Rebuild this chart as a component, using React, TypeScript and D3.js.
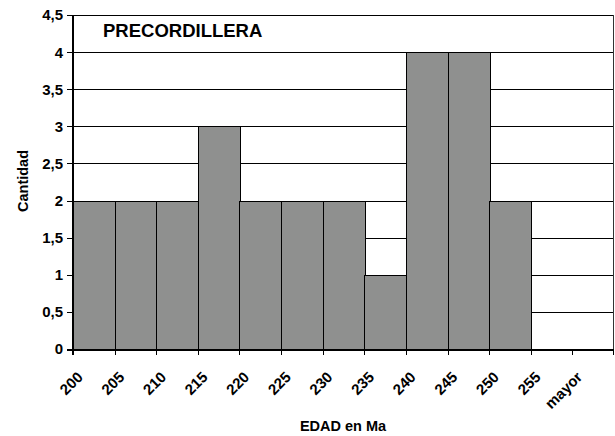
// @ts-nocheck
import * as d3 from "d3";
import React from "react";

const categories = ["200", "205", "210", "215", "220", "225", "230", "235", "240", "245", "250", "255", "mayor"];
const counts = [2, 2, 2, 3, 2, 2, 2, 1, 4, 4, 2, 0, 0];
const yTicks = [0, 0.5, 1, 1.5, 2, 2.5, 3, 3.5, 4, 4.5];
const yTickLabels = ["0", "0,5", "1", "1,5", "2", "2,5", "3", "3,5", "4", "4,5"];

const App = ({
  width = 615,
  height = 436,
  marginTop = 15,
  marginRight = 1,
  marginBottom = 87,
  marginLeft = 73,
}) => {
  const x = d3
    .scaleBand()
    .domain(categories)
    .range([marginLeft, width - marginRight])
    .padding(0);
  const y = d3.scaleLinear([0, 4.5], [height - marginBottom, marginTop]);
  const bw = x.bandwidth();
  const font = "Arial, 'Liberation Sans', sans-serif";
  const x0 = marginLeft;
  const x1 = width - marginRight;
  const yb = y(0);

  return (
    <svg
      width={width}
      height={height}
      style={{ position: "absolute", left: 0, top: 0, background: "#fff" }}
      fontFamily={font}
      fontWeight="bold"
    >
      {/* gridlines */}
      <g stroke="#000" strokeWidth="1" shapeRendering="crispEdges">
        {yTicks.slice(1).map((t) => (
          <line key={t} x1={x0} x2={x1} y1={Math.round(y(t)) + 0.5} y2={Math.round(y(t)) + 0.5} />
        ))}
      </g>
      <line x1={x1 - 0.5} x2={x1 - 0.5} y1={y(4.5)} y2={yb} stroke="#333" strokeWidth="1" />

      {/* bars */}
      <g fill="#8f908f" stroke="#000" strokeWidth="1" shapeRendering="crispEdges">
        {categories.map((c, i) =>
          counts[i] > 0 ? (
            <rect key={c} x={Math.round(x(c)) + 0.5} y={Math.round(y(counts[i])) + 0.5} width={Math.round(bw)} height={Math.round(yb) - Math.round(y(counts[i]))} />
          ) : null
        )}
      </g>

      {/* axes */}
      <g stroke="#000" shapeRendering="crispEdges">
        <line x1={x0} x2={x0} y1={y(4.5)} y2={yb + 6} strokeWidth="2" />
        <line x1={x0 - 6} x2={x1} y1={Math.round(yb) + 0.5} y2={Math.round(yb) + 0.5} strokeWidth="2" />
        {yTicks.map((t) => (
          <line key={t} x1={x0 - 6} x2={x0} y1={Math.round(y(t)) + 0.5} y2={Math.round(y(t)) + 0.5} strokeWidth="1" />
        ))}
        {categories.map((c) => (
          <line key={c} x1={Math.round(x(c)) + 0.5} x2={Math.round(x(c)) + 0.5} y1={yb} y2={yb + 6} strokeWidth="1" />
        ))}
        <line x1={x1 - 0.5} x2={x1 - 0.5} y1={yb} y2={yb + 6} strokeWidth="1" />
      </g>

      {/* y tick labels */}
      <g fontSize="15" textAnchor="end" fill="#000">
        {yTicks.map((t, i) => (
          <text key={t} x={x0 - 10} y={y(t)} dy="0.36em">
            {yTickLabels[i]}
          </text>
        ))}
      </g>

      {/* x tick labels */}
      <g fontSize="15" textAnchor="end" fill="#000">
        {categories.map((c) => (
          <text key={c} transform={`translate(${x(c) + bw / 2 - 10},${yb + 29}) rotate(-45)`}>
            {c}
          </text>
        ))}
      </g>

      <text x={103} y={37} fontSize="18.5" fill="#000">
        PRECORDILLERA
      </text>
      <text x={343} y={431} fontSize="14.5" textAnchor="middle" fill="#000">
        EDAD en Ma
      </text>
      <text transform={`translate(28,181) rotate(-90)`} fontSize="14.5" textAnchor="middle" fill="#000">
        Cantidad
      </text>
    </svg>
  );
};

export default App;
